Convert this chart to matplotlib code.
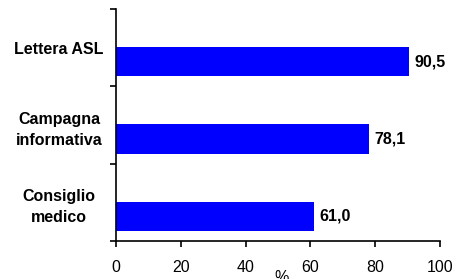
import matplotlib
matplotlib.use("Agg")
import matplotlib.pyplot as plt

plt.rcParams['font.family'] = ['Liberation Sans', 'DejaVu Sans']

# data (bottom to top)
categories = ["Consiglio\nmedico", "Campagna\ninformativa", "Lettera ASL"]
values = [61.0, 78.1, 90.5]
value_labels = ["61,0", "78,1", "90,5"]
xticks = [0, 20, 40, 60, 80, 100]

fig = plt.figure(figsize=(4.54, 2.79), dpi=100)
ax = fig.add_axes([0.2555, 0.1362, 0.7135, 0.8315])

pos = [i + 0.32 for i in range(len(values))]
ax.barh(pos, values, height=0.377, color="#0000FF", edgecolor="none")

for p, v, lab in zip(pos, values, value_labels):
    ax.annotate(lab, (v, p), xytext=(4, 0), textcoords="offset points",
                ha="left", va="center", fontsize=11.5, fontweight="bold")

ax.set_xlim(0, 100)
ax.set_ylim(0, 3)
ax.set_xticks(xticks)
ax.set_xticklabels([str(t) for t in xticks], fontsize=11.5)
ax.tick_params(axis="x", direction="out", length=4, width=1.2, pad=10)

# boundary ticks on y axis, labels at band centres
ax.set_yticks([0, 1, 2, 3])
ax.set_yticklabels([])
ax.set_yticks([0.5, 1.5, 2.5], minor=True)
ax.set_yticklabels(categories, minor=True, fontsize=11.5, fontweight="bold",
                   ha="center", linespacing=1.55)
ax.tick_params(axis="y", which="major", direction="out", length=4, width=1.2)
ax.tick_params(axis="y", which="minor", length=0, pad=41)

for s in ["top", "right"]:
    ax.spines[s].set_visible(False)
for s in ["left", "bottom"]:
    ax.spines[s].set_linewidth(1.2)

ax.set_xlabel("%", fontsize=11.5, labelpad=-4, x=0.51)

fig.savefig("out.png", dpi=100)
